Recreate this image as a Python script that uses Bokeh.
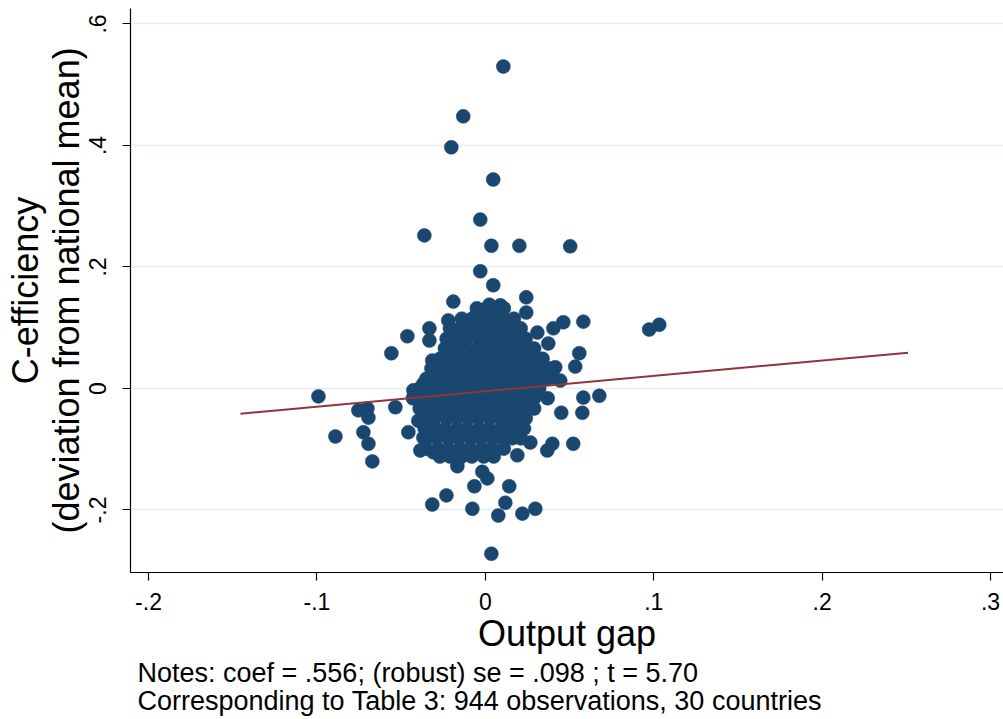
from bokeh.plotting import figure
from bokeh.models import Range1d, FixedTicker, Title
from bokeh.embed import file_html
from bokeh.resources import INLINE

# ---- data ----
# scattered observations outside the dense core
gap_out = [0.0107, -0.0131, -0.0202, 0.0047, -0.0030, -0.0362, 0.0036, 0.0202, 0.0504,
           -0.0030, 0.0047, -0.0190, 0.0243, 0.0243, 0.0024, 0.0089, 0.0973, 0.1033,
           0.0582, 0.0463, 0.0404, 0.0309, 0.0374, 0.0558, 0.0534, 0.0415, 0.0404,
           0.0445, 0.0582, 0.0677, 0.0451, 0.0576, 0.0522, 0.0398, 0.0368, 0.0267,
           0.0190, -0.0463, -0.0558, -0.0332, -0.0332, -0.0220, -0.0131, -0.0047,
           -0.0315, -0.0368, -0.0427, -0.0991, -0.0890, -0.0754, -0.0700, -0.0694,
           -0.0724, -0.0694, -0.0671, -0.0534, -0.0457, -0.0398, -0.0368, -0.0386,
           -0.0309, -0.0166, -0.0018, 0.0012, -0.0065, 0.0142, -0.0231, -0.0315,
           -0.0077, 0.0077, 0.0119, 0.0220, 0.0297, 0.0036]
ceff_out = [0.530, 0.448, 0.397, 0.344, 0.278, 0.252, 0.235, 0.235, 0.234,
            0.193, 0.170, 0.143, 0.150, 0.125, 0.138, 0.137, 0.097, 0.105,
            0.110, 0.109, 0.099, 0.092, 0.074, 0.058, 0.036, 0.035, 0.018,
            0.013, -0.015, -0.012, -0.040, -0.040, -0.091, -0.091, -0.102, -0.089,
            -0.110, 0.086, 0.058, 0.099, 0.079, 0.112, 0.112, 0.125,
            0.046, 0.008, -0.003, -0.013, -0.079, -0.036, -0.033, -0.048,
            -0.072, -0.091, -0.120, -0.031, -0.072, -0.053, -0.081, -0.102,
            -0.105, -0.128, -0.137, -0.148, -0.161, -0.161, -0.176, -0.191,
            -0.198, -0.209, -0.188, -0.206, -0.198, -0.272]

# dense core of the cloud, row by row (C-efficiency level, output gaps)
row_ceff = [0.132, 0.115, 0.099, 0.082, 0.066, 0.049, 0.033, 0.016, 0.000,
            -0.016, -0.033, -0.049, -0.066, -0.082, -0.099, -0.112]
row_gaps = [
    [-0.005, 0.001, 0.007, 0.011],
    [-0.014, -0.008, -0.001, 0.005, 0.011, 0.017],
    [-0.021, -0.015, -0.008, -0.002, 0.004, 0.010, 0.016, 0.021],
    [-0.023, -0.017, -0.011, -0.004, 0.002, 0.008, 0.014, 0.019, 0.024],
    [-0.024, -0.018, -0.012, -0.005, 0.001, 0.007, 0.013, 0.019, 0.024, 0.029],
    [-0.027, -0.021, -0.015, -0.008, -0.002, 0.004, 0.010, 0.016, 0.022, 0.028, 0.034],
    [-0.032, -0.026, -0.019, -0.013, -0.006, 0.000, 0.007, 0.013, 0.020, 0.026, 0.033, 0.039],
    [-0.035, -0.029, -0.022, -0.016, -0.009, -0.003, 0.004, 0.010, 0.017, 0.023, 0.030, 0.037],
    [-0.039, -0.032, -0.026, -0.019, -0.013, -0.006, 0.000, 0.007, 0.013, 0.020, 0.026, 0.032],
    [-0.043, -0.036, -0.030, -0.023, -0.017, -0.010, -0.004, 0.003, 0.009, 0.016, 0.022, 0.029, 0.037],
    [-0.039, -0.033, -0.026, -0.020, -0.013, -0.007, 0.000, 0.006, 0.013, 0.019, 0.025, 0.029],
    [-0.036, -0.030, -0.023, -0.017, -0.010, -0.004, 0.003, 0.009, 0.015, 0.020, 0.024],
    [-0.036, -0.030, -0.024, -0.017, -0.011, -0.004, 0.002, 0.009, 0.015, 0.020, 0.023],
    [-0.035, -0.029, -0.022, -0.016, -0.009, -0.003, 0.004, 0.010, 0.016, 0.021],
    [-0.035, -0.028, -0.022, -0.015, -0.009, -0.002, 0.004, 0.011],
    [-0.027, -0.021, -0.014, -0.008, -0.001, 0.005],
]

# fitted line (end points)
fit_gap = [-0.1454, 0.2510]
fit_ceff = [-0.0414, 0.0589]

x_ticks = [-0.2, -0.1, 0.0, 0.1, 0.2, 0.3]
x_tick_labels = ["-.2", "-.1", "0", ".1", ".2", ".3"]
y_ticks = [-0.2, 0.0, 0.2, 0.4, 0.6]
y_tick_labels = ["-.2", "0", ".2", ".4", ".6"]

x_title = "Output gap"
y_title = "C-efficiency\n(deviation from national mean)"
note1 = "Notes: coef = .556; (robust) se = .098 ; t = 5.70"
note2 = "Corresponding to Table 3: 944 observations, 30 countries"

# ---- build ----
gap_all = list(gap_out)
ceff_all = list(ceff_out)
for yv, xs in zip(row_ceff, row_gaps):
    for xv in xs:
        gap_all.append(xv)
        ceff_all.append(yv)

FONT = "Liberation Sans"
NAVY = "#1a476f"
RED = "#90353b"

p = figure(frame_width=873, frame_height=564,
           x_range=Range1d(-0.2107, 0.3077), y_range=Range1d(-0.3029, 0.6255),
           output_backend="svg", toolbar_location=None,
           min_border_left=130, min_border_right=0, min_border_top=8, min_border_bottom=145)
p.outline_line_color = None
p.background_fill_color = "white"
p.border_fill_color = "white"

p.xgrid.visible = False
p.ygrid.grid_line_color = "#e4edf0"
p.ygrid.grid_line_width = 1.5
p.ygrid.ticker = FixedTicker(ticks=y_ticks)

p.scatter(gap_all, ceff_all, size=14, fill_color=NAVY, line_color=NAVY, line_width=0.5)
p.line(fit_gap, fit_ceff, line_color=RED, line_width=2)

p.xaxis.ticker = FixedTicker(ticks=x_ticks)
p.yaxis.ticker = FixedTicker(ticks=y_ticks)
p.xaxis.major_label_overrides = dict(zip(x_ticks, x_tick_labels))
p.yaxis.major_label_overrides = dict(zip(y_ticks, y_tick_labels))
p.xaxis.axis_label = x_title
p.yaxis.axis_label = y_title
p.yaxis.major_label_orientation = "parallel"

for ax in (p.xaxis[0], p.yaxis[0]):
    ax.axis_line_color = "black"
    ax.axis_line_width = 1.2
    ax.major_tick_line_color = "black"
    ax.major_tick_line_width = 1.2
    ax.major_tick_out = 8
    ax.major_tick_in = 0
    ax.minor_tick_out = 0
    ax.minor_tick_in = 0
    ax.major_label_text_font = FONT
    ax.major_label_text_font_size = "23px"
    ax.major_label_text_color = "black"
    ax.axis_label_text_font = FONT
    ax.axis_label_text_font_size = "36px"
    ax.axis_label_text_font_style = "normal"
    ax.axis_label_text_color = "black"

p.xaxis.major_label_standoff = 12
p.xaxis.axis_label_standoff = 0
p.yaxis.major_label_standoff = 16
p.yaxis.axis_label_standoff = 0
p.yaxis.axis_label_text_line_height = 0.98

notes = Title(text=note1 + "\n" + note2, align="left", offset=7, text_font=FONT,
              text_font_size="27px", text_font_style="normal", text_color="black",
              text_line_height=0.93, standoff=-1)
p.add_layout(notes, "below")

open("out.html", "w").write(file_html(p, INLINE))
